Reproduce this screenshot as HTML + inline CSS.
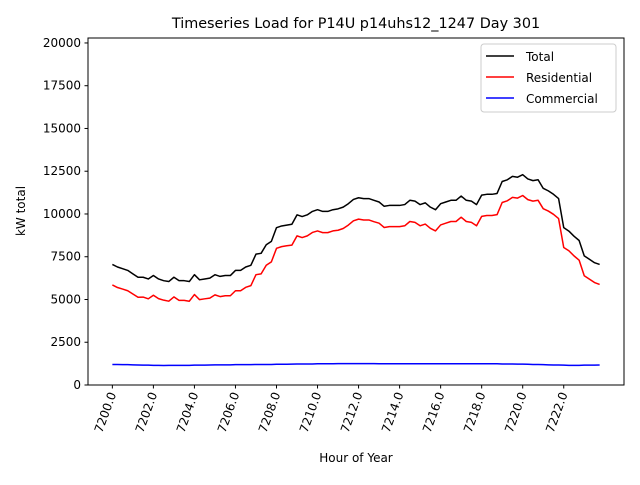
<!DOCTYPE html>
<html><head><meta charset="utf-8"><style>
html,body{margin:0;padding:0;background:#fff;}
svg text{font-family:"DejaVu Sans","Liberation Sans",sans-serif;}
</style></head><body>
<svg id="chart" width="640" height="480" viewBox="0 0 640 480">
<rect x="0" y="0" width="640" height="480" fill="#fff"/>
<text x="356" y="28" font-size="14.4" text-anchor="middle" fill="#000">Timeseries Load for P14U p14uhs12_1247  Day 301</text>
<g id="grid"></g>
<g id="series"></g>
<rect x="88" y="38" width="536" height="347" fill="none" stroke="#000" stroke-width="1"/>
<g id="yticks"></g><g id="xticks"></g>
<text x="0" y="0" font-size="12" text-anchor="middle" transform="translate(25,211) rotate(-90)">kW total</text>
<text x="356" y="462" font-size="12" text-anchor="middle">Hour of Year</text>
<g>
<rect x="481" y="44" width="135" height="68" rx="3" fill="#fff" fill-opacity="0.8" stroke="#ccc"/>
<line x1="486" y1="56" x2="514" y2="56" stroke="#000" stroke-width="1.5"/>
<text x="526" y="61" font-size="12">Total</text>
<line x1="486" y1="77" x2="514" y2="77" stroke="#f00" stroke-width="1.5"/>
<text x="526" y="82" font-size="12">Residential</text>
<line x1="486" y1="98" x2="514" y2="98" stroke="#00f" stroke-width="1.5"/>
<text x="526" y="103" font-size="12">Commercial</text>
</g>
</svg>
<script>
const xStart = 7200;
const stepHours = 0.25;
const totalValues = [7050,6900,6800,6700, 6500,6300,6300,6200, 6400,6200,6100,6050, 6300,6100,6100,6050,
 6450,6150,6200,6250, 6450,6350,6400,6400, 6700,6700,6900,7000, 7650,7700,8200,8400,
 9200,9300,9350,9400, 9950,9850,9950,10150, 10250,10150,10150,10250, 10300,10400,10600,10850,
 10950,10900,10900,10800, 10700,10450,10500,10500, 10500,10550,10800,10750, 10550,10650,10400,10250,
 10600,10700,10800,10800, 11050,10800,10750,10550, 11100,11150,11150,11200, 11900,12000,12200,12150,
 12300,12050,11950,12000, 11500,11350,11150,10900, 9200,9000,8700,8450, 7550,7350,7150,7050];
const residentialValues = [5850,5700,5610,5510, 5320,5130,5140,5040, 5250,5050,4960,4900, 5150,4950,4950,4900,
 5290,4990,5040,5080, 5270,5170,5220,5220, 5510,5510,5710,5810, 6450,6500,7000,7200,
 7990,8090,8140,8180, 8720,8620,8720,8920, 9010,8910,8910,9010, 9050,9150,9350,9600,
 9700,9650,9650,9550, 9460,9210,9260,9260, 9260,9310,9560,9510, 9310,9410,9160,9010,
 9360,9460,9560,9560, 9810,9560,9510,9310, 9860,9910,9910,9960, 10670,10770,10970,10930,
 11080,10840,10750,10800, 10310,10170,9980,9730, 8040,7850,7550,7300, 6390,6190,5990,5880];
const commercialValues = [1200,1200,1190,1190, 1180,1170,1160,1160, 1150,1150,1140,1150, 1150,1150,1150,1150,
 1160,1160,1160,1170, 1180,1180,1180,1180, 1190,1190,1190,1190, 1200,1200,1200,1200,
 1210,1210,1210,1220, 1230,1230,1230,1230, 1240,1240,1240,1240, 1250,1250,1250,1250,
 1250,1250,1250,1250, 1240,1240,1240,1240, 1240,1240,1240,1240, 1240,1240,1240,1240,
 1240,1240,1240,1240, 1240,1240,1240,1240, 1240,1240,1240,1240, 1230,1230,1230,1220,
 1220,1210,1200,1200, 1190,1180,1170,1170, 1160,1150,1150,1150, 1160,1160,1160,1170];
const yTickValues = [0,2500,5000,7500,10000,12500,15000,17500,20000];
const xTickValues = [7200,7202,7204,7206,7208,7210,7212,7214,7216,7218,7220,7222];

const L=88,R=624,T=38,B=385;
const n=totalValues.length;
const xMin=xStart, xMax=xStart+(n-1)*stepHours, pad=(xMax-xMin)*0.05;
const x0=xMin-pad, x1=xMax+pad;
const y0=0, y1=20290;
function xs(v){return L+(v-x0)/(x1-x0)*(R-L);}
function ys(v){return B-(v-y0)/(y1-y0)*(B-T);}
const NS="http://www.w3.org/2000/svg";
function mk(tag,attrs,parent){const e=document.createElementNS(NS,tag);for(const k in attrs)e.setAttribute(k,attrs[k]);parent.appendChild(e);return e;}
const yt=document.getElementById('yticks'), xt=document.getElementById('xticks'), sg=document.getElementById('series');
yTickValues.forEach(v=>{
  const y=ys(v);
  const ln=mk('line',{x1:L-3.5,x2:L,y1:y,y2:y,stroke:'#000'},yt);
  
  
  const t=mk('text',{x:L-7,y:y+4,'font-size':12,'text-anchor':'end'},yt);
  t.textContent=String(v);
  
  
});
xTickValues.forEach(v=>{
  const x=xs(v);
  const ln=mk('line',{x1:x,x2:x,y1:B,y2:B+3.5,stroke:'#000'},xt);
  
  
  const t=mk('text',{x:0,y:0,'font-size':12,'text-anchor':'end',transform:`translate(${x+4},${B+9}) rotate(-70)`},xt);
  t.textContent=v.toFixed(1);
  
  
});
function drawLine(vals,color,name){
  const pts=vals.map((v,i)=>xs(xStart+i*stepHours).toFixed(2)+','+ys(v).toFixed(2)).join(' ');
  const p=mk('polyline',{points:pts,fill:'none',stroke:color,'stroke-width':1.5,'stroke-linejoin':'round'},sg);
  
  
}
drawLine(totalValues,'#000','total-line');
drawLine(residentialValues,'#f00','residential-line');
drawLine(commercialValues,'#00f','commercial-line');
</script>
</body></html>
